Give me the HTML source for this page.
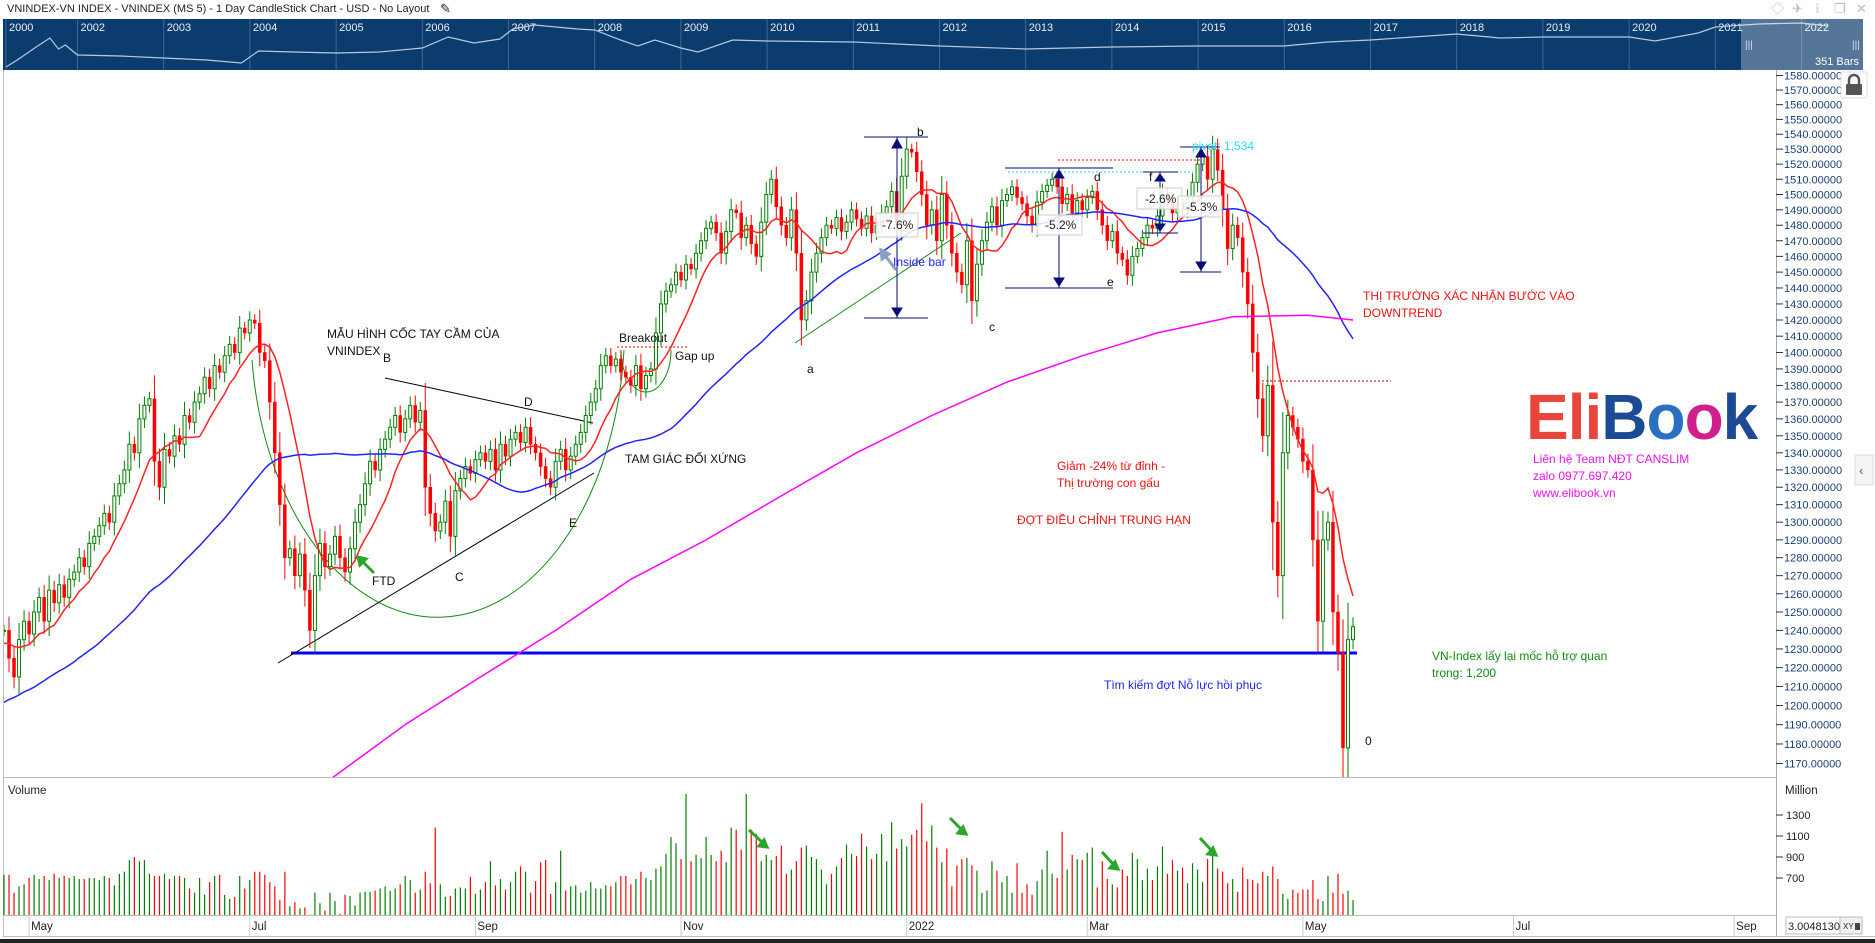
<!DOCTYPE html>
<html><head><meta charset="utf-8"><title>VNINDEX chart</title>
<style>
html,body{margin:0;padding:0;background:#fff;width:1875px;height:943px;overflow:hidden}
svg{display:block;font-family:"Liberation Sans","Noto Sans CJK SC",sans-serif}
</style></head><body>
<svg id="chart" width="1875" height="943" viewBox="0 0 1875 943" xmlns="http://www.w3.org/2000/svg">
<defs><clipPath id="pclip"><rect x="4" y="70" width="1772" height="707"/></clipPath></defs>
<rect x="0" y="0" width="1875" height="943" fill="#fff"/>
<text x="7" y="12" font-size="11" fill="#222">VNINDEX-VN INDEX - VNINDEX (MS 5) - 1 Day CandleStick Chart - USD - No Layout</text>
<text x="440" y="13" font-size="13" fill="#222">✎</text>
<g fill="#bbb" font-size="13">
<text x="1771" y="13">◇</text>
<text x="1792" y="13">✈</text>
<text x="1815" y="13" fill="#ddd">ℹ</text>
<text x="1834" y="13">❐</text>
<text x="1856" y="13">✕</text>
</g>
<g id="nav">
<rect x="3" y="19" width="1860" height="51" fill="#0c3c6e"/>
</g>
<line x1="3.5" y1="70" x2="3.5" y2="937" stroke="#bbb"/>
<line x1="1776.5" y1="70" x2="1776.5" y2="937" stroke="#aaa"/>
<line x1="3" y1="777.5" x2="1776" y2="777.5" stroke="#bbb"/>
<line x1="3" y1="915.5" x2="1776" y2="915.5" stroke="#bbb"/>
<line x1="3" y1="936.5" x2="1875" y2="936.5" stroke="#bbb"/>
<rect x="0" y="939" width="1875" height="4" fill="#222"/>
<g id="priceAxis"></g>
<g id="pricePane" clip-path="url(#pclip)">
<line x1="291" y1="653" x2="1357" y2="653" stroke="#0000ff" stroke-width="3"/>
<path d="M252 360 A187 292 0 0 0 624 350" fill="none" stroke="#138a13" stroke-width="1"/>
<path d="M621 350 A25 42 0 0 0 671 350" fill="none" stroke="#138a13" stroke-width="1"/>
<line x1="385" y1="378" x2="593" y2="423" stroke="#000" stroke-width="1"/>
<line x1="278" y1="663" x2="594" y2="473" stroke="#000" stroke-width="1"/>
<line x1="617" y1="347" x2="687" y2="347" stroke="#e00" stroke-dasharray="2,2"/>
<line x1="795" y1="343" x2="961" y2="233" stroke="#138a13"/>
<line x1="1058" y1="160" x2="1200" y2="160" stroke="#e00" stroke-dasharray="2,2"/>
<line x1="1008" y1="172" x2="1193" y2="172" stroke="#00d8e8" stroke-dasharray="2,2"/>
<line x1="1262" y1="381" x2="1391" y2="381" stroke="#c00" stroke-dasharray="2,2"/>
</g>
<g stroke="#0a0a7a" fill="#0a0a7a">
<line x1="864" y1="137" x2="928" y2="137"/><line x1="864" y1="318" x2="928" y2="318"/>
<line x1="897" y1="137" x2="897" y2="318"/>
<path d="M892 148 L897 139 L902 148Z"/><path d="M892 308 L897 316 L902 308Z"/>
</g>
<g stroke="#0a0a7a" fill="#0a0a7a">
<line x1="1005" y1="168" x2="1113" y2="168"/><line x1="1005" y1="288" x2="1113" y2="288"/>
<line x1="1059" y1="168" x2="1059" y2="288"/>
<path d="M1054 178 L1059 170 L1064 178Z"/><path d="M1054 278 L1059 286 L1064 278Z"/>
</g>
<g stroke="#0a0a7a" fill="#0a0a7a">
<line x1="1143" y1="172" x2="1178" y2="172"/><line x1="1143" y1="233" x2="1178" y2="233"/>
<line x1="1160" y1="172" x2="1160" y2="233"/>
<path d="M1155 181 L1160 174 L1165 181Z"/><path d="M1155 224 L1160 231 L1165 224Z"/>
</g>
<g stroke="#0a0a7a" fill="#0a0a7a">
<line x1="1180" y1="147" x2="1220" y2="147"/><line x1="1180" y1="272" x2="1221" y2="272"/>
<line x1="1201" y1="147" x2="1201" y2="272"/>
<path d="M1196 157 L1201 149 L1206 157Z"/><path d="M1196 262 L1201 270 L1206 262Z"/>
</g>
<g font-size="12">
<rect x="876" y="213" width="42" height="24" fill="#fff" fill-opacity="0.85" stroke="#ccc"/>
<text x="882" y="229" fill="#222">-7.6%</text>
<rect x="1037" y="215" width="45" height="20" fill="#fff" fill-opacity="0.85" stroke="#ccc"/>
<text x="1045" y="229" fill="#222">-5.2%</text>
<rect x="1137" y="188" width="45" height="21" fill="#fff" fill-opacity="0.85" stroke="#ccc"/>
<text x="1145" y="203" fill="#222">-2.6%</text>
<rect x="1178" y="196" width="44" height="21" fill="#fff" fill-opacity="0.85" stroke="#ccc"/>
<text x="1186" y="211" fill="#222">-5.3%</text>
<text x="1192" y="150" fill="#22e0f0">pivot: 1,534</text>
<text x="327" y="338" fill="#111">MẪU HÌNH CỐC TAY CẦM CỦA</text>
<text x="327" y="355" fill="#111">VNINDEX</text>
<text x="383" y="362" fill="#111">B</text>
<text x="524" y="406" fill="#111">D</text>
<text x="455" y="581" fill="#111">C</text>
<text x="569" y="527" fill="#111">E</text>
<text x="372" y="585" fill="#111">FTD</text>
<text x="619" y="342" fill="#111">Breakout</text>
<text x="675" y="360" fill="#111">Gap up</text>
<text x="625" y="463" fill="#111">TAM GIÁC ĐỐI XỨNG</text>
<text x="807" y="373" fill="#111">a</text>
<text x="917" y="136" fill="#111">b</text>
<text x="989" y="331" fill="#111">c</text>
<text x="1094" y="181" fill="#111">d</text>
<text x="1107" y="286" fill="#111">e</text>
<text x="1149" y="181" fill="#111">f</text>
<text x="893" y="266" fill="#2222ee">Inside bar</text>
<text x="1363" y="300" fill="#ee1111">THỊ TRƯỜNG XÁC NHẬN BƯỚC VÀO</text>
<text x="1363" y="317" fill="#ee1111">DOWNTREND</text>
<text x="1057" y="470" fill="#ee1111">Giảm -24% từ đỉnh -</text>
<text x="1057" y="487" fill="#ee1111">Thị trường con gấu</text>
<text x="1017" y="524" fill="#ee1111">ĐỢT ĐIỀU CHỈNH TRUNG HẠN</text>
<text x="1104" y="689" fill="#2222ee">Tìm kiếm đợt Nỗ lực hồi phục</text>
<text x="1432" y="660" fill="#138a13">VN-Index lấy lại mốc hỗ trợ quan</text>
<text x="1432" y="677" fill="#138a13">trọng: 1,200</text>
<text x="1365" y="745" fill="#111">0</text>
<text x="1533" y="463" fill="#ee11ee">Liên hệ Team NĐT CANSLIM</text>
<text x="1533" y="480" fill="#ee11ee">zalo 0977.697.420</text>
<text x="1533" y="497" fill="#ee11ee">www.elibook.vn</text>
</g>
<text x="1526" y="439" font-size="64" font-weight="bold" letter-spacing="-1"><tspan fill="#e8453c">Eli</tspan><tspan fill="#1c4a94">B</tspan><tspan fill="#2a6fc0">o</tspan><tspan fill="#d0208a">o</tspan><tspan fill="#1c4a94">k</tspan></text>
<path d="M374 573 L361 560 M358 557 l2 8 l6 -6z" stroke="#2aa52a" stroke-width="3" fill="#2aa52a"/>
<path d="M896 270 L884 254 M881 250 l1 9 l7 -5z" stroke="#8aa0c0" stroke-width="3" fill="#8aa0c0"/>
<g id="volPane"></g>
<g stroke="#2aa52a" stroke-width="3" fill="#2aa52a">
<path d="M749 830 L763 843 M767 847 l-8 -1 l5 -6z"/>
<path d="M950 818 L962 830 M966 834 l-8 -1 l5 -6z"/>
<path d="M1102 852 L1114 865 M1118 869 l-8 -1 l5 -6z"/>
<path d="M1200 838 L1212 851 M1216 855 l-8 -1 l5 -6z"/>
</g>
<text x="8" y="794" font-size="11.5" fill="#222">Volume</text>
<text x="1785" y="794" font-size="11.5" fill="#222">Million</text>
<g id="timeAxis"></g>
<g>
<rect x="1841" y="72" width="26" height="26" rx="2" fill="#fff" stroke="#ddd"/>
<rect x="1846" y="84" width="16" height="11" rx="1" fill="#555"/>
<path d="M1849 84 v-4 a5 5 0 0 1 10 0 v4" fill="none" stroke="#555" stroke-width="2.5"/>
</g>
<g>
<rect x="1855" y="455" width="18" height="30" fill="#f4f4f4" stroke="#ddd"/>
<text x="1859" y="475" font-size="13" fill="#666">‹</text>
</g>
<g>
<rect x="1786" y="917" width="54" height="17" fill="#fff" stroke="#bbb"/>
<text x="1788" y="930" font-size="11" fill="#222">3.0048130</text>
<rect x="1840" y="917" width="22" height="17" fill="#f0f0f0" stroke="#bbb"/>
<text x="1843" y="929" font-size="8" fill="#222">XY</text>
<rect x="1855" y="923" width="5" height="7" fill="#444"/>
</g>
</svg>
<script>
// ---- data ----
var priorCloses = [1150,1162,1170,1165,1178,1185,1172,1160,1168,1175,1180,1190,1185,1178,1170,1182,1190,1195,1188,1175,1180,1192,1198,1205,1210,1200,1195,1205,1215,1222,1230,1225,1218,1210,1205,1212,1220,1228,1235,1230,1225,1232,1240,1238,1230,1222,1228,1235,1240];
var closes = [1240,1225,1215,1235,1245,1238,1250,
1258,1245,1262,1255,1265,1258,1268,
1272,1280,1275,1288,1292,
1298,1305,1300,1315,1322,
1330,1345,1340,1360,1368,1372,
1335,1320,1342,
1338,1350,1345,1362,1358,1370,
1375,1385,1378,1392,1388,1398,1405,1400,1415,
1412,1420,1418,
1400,1395,1370,1340,1310,1280,
1285,1270,1282,1262,1240,
1270,1288,1275,1282,1292,1280,1272,
1285,1300,1310,
1322,1335,1330,1342,1348,
1355,1362,1352,1360,1368,1358,1365,
1320,1305,
1295,1300,1312,1292,1318,
1325,1332,1328,1336,1340,
1335,1342,1330,1345,1338,1348,1352,1346,1355,
1345,1340,1332,1325,1320,
1335,1342,1330,1338,1345,1352,
1362,1370,1378,1392,
1398,1392,1396,1388,
1385,1380,1392,1378,1386,1390,
1412,1430,1438,1442,
1450,1445,1455,1452,1462,
1470,1478,1482,1475,1462,1476,1490,1488,1472,1480,1468,1460,
1482,1500,1510,1492,
1480,1472,1490,1462,1420,
1432,1450,1462,1472,1480,
1478,1485,1476,1482,1490,1484,1478,1486,1475,1480,1488,1492,
1502,1482,1512,1530,1528,
1515,1500,1480,
1490,1470,1500,1480,
1462,1450,1442,1470,1432,1455,1470,
1482,1492,1480,1496,1500,1505,
1498,1494,1486,1480,1495,1502,1506,1510,
1505,1494,1500,1488,1496,1490,1498,1502,1490,
1480,1470,1476,1462,1458,1448,1460,
1465,1472,1480,1478,1486,1500,
1496,1488,1494,1490,1498,1508,1520,
1525,1510,1530,1516,
1490,1465,1480,1472,1450,1430,
1400,1372,1350,1380,1300,
1270,1340,1362,1355,1348,1335,1330,
1290,1245,
1290,1300,1250,1228,1178,
1235,1242];
var volumes = [730,730,560,620,640,700,730,690,720,680,
740,700,720,700,720,690,690,700,700,680,
720,700,630,740,760,870,900,860,870,740,
720,720,740,690,720,720,700,600,560,700,
540,660,720,730,540,500,520,720,600,680,
760,760,730,660,620,490,760,430,470,410,
420,350,560,460,390,560,480,360,540,530,
440,560,570,570,580,600,620,580,600,640,
720,680,560,590,760,650,1180,640,520,530,
600,610,600,710,550,590,660,860,630,690,
590,660,760,810,760,560,670,850,870,550,
660,960,580,620,630,560,580,660,600,600,
630,620,660,720,720,640,690,760,700,680,
790,810,930,1090,1030,880,1500,860,920,890,
1090,920,860,960,850,1180,1160,970,1500,1160,
1120,860,920,870,910,1010,740,780,860,990,
1010,900,880,780,640,740,810,890,1020,930,
910,1120,1000,880,930,1120,860,1230,980,1070,
1000,1110,1160,1410,1050,1200,990,850,980,620,
820,880,890,820,770,560,580,860,770,660,
720,560,840,560,640,540,670,780,960,740,
700,1140,780,920,880,870,940,990,610,860,
690,640,610,780,720,940,880,680,790,680,
810,1000,740,870,770,800,650,840,780,660,
880,920,790,760,650,690,570,800,690,680,
650,760,720,810,690,550,500,590,560,590,
590,680,500,480,720,560,740,550,580,490];
var ma200Bars = [64,80,95,110,125,140,155,170,185,200,215,230,245,260,269];
var ma200Vals = [1160,1190,1215,1240,1268,1290,1315,1340,1362,1382,1398,1412,1422,1423,1420];
var monthLabels = ["May","Jul","Sep","Nov","2022","Mar","May","Jul","Sep"];
var monthBars = [5,49,94,135,180,216,259,301,345];
var volTicks = [1300,1100,900,700];
var navYearLabels = ["2000","2002","2003","2004","2005","2006","2007","2008","2009","2010","2011","2012","2013","2014","2015","2016","2017","2018","2019","2020","2021","2022"];
var navYearPos = [2001.17,2002,2003,2004,2005,2006,2007,2008,2009,2010,2011,2012,2013,2014,2015,2016,2017,2018,2019,2020,2021,2022];
var navT = [2001.17,2001.3,2001.42,2001.52,2001.68,2001.78,2001.86,2002,2002.5,2003,2003.5,2003.9,2004.1,2004.5,2005,2005.5,2006,2006.3,2006.6,2006.9,2007.05,2007.3,2007.8,2008,2008.3,2008.5,2008.7,2009,2009.2,2009.6,2010,2011,2012,2013,2014,2015,2016,2016.5,2017,2018,2018.5,2019,2020,2020.3,2020.8,2021,2021.5,2022,2022.3];
var navV = [60,200,340,460,640,420,500,300,280,240,200,140,380,360,340,360,440,660,540,620,820,900,820,800,600,480,600,440,360,600,580,560,480,420,460,480,480,560,600,720,640,660,660,580,740,860,920,940,880];

// ---- scales ----
function xB(i){ return 4 + i*5.015; }
function yP(v){ return 75.5 + 2290*Math.log(1580/v); }
function yV(v){ return 878 - (v-700)*0.105; }
function xNav(t){ return 77.5 + (t-2002)*86.2; }
function yNav(v){ return 70 - v*0.05; }
var NS = "http://www.w3.org/2000/svg";
function mk(tag, attrs, parent){ var e=document.createElementNS(NS,tag); for(var k in attrs){ e.setAttribute(k, attrs[k]); } parent.appendChild(e); return e; }

// navigator
var nav = document.getElementById('nav');
for (var n=0;n<navYearLabels.length;n++){
  var nx = xNav(navYearPos[n]);
  var gl = mk('line',{x1:nx,y1:19,x2:nx,y2:70,stroke:'#4d6f96','stroke-width':0.8},nav);
  
  
  var yl = mk('text',{x:nx+3,y:31,'font-size':11,fill:'#e6eef7'},nav);
  yl.textContent = navYearLabels[n];
  
  
}
var np = '';
for (var n=0;n<navT.length;n++){ np += (n?'L':'M') + xNav(navT[n]).toFixed(1)+' '+yNav(navV[n]).toFixed(1)+' '; }
var navLine = mk('path',{d:np,fill:'none',stroke:'#b8c8dc','stroke-width':1.2},nav);


var sel = mk('rect',{x:1741,y:19,width:122,height:51,fill:'#ffffff','fill-opacity':0.3},nav);


var hl = mk('text',{x:1745,y:48,'font-size':10,fill:'#dde'},nav); hl.textContent='|||';


var hr = mk('text',{x:1852,y:48,'font-size':10,fill:'#dde'},nav); hr.textContent='|||';


var bars = mk('text',{x:1815,y:65,'font-size':11,fill:'#fff'},nav); bars.textContent='351 Bars';



// price axis
var pa = document.getElementById('priceAxis');
for (var v=1170; v<=1580; v+=10){
  var ty = yP(v);
  var tk = mk('line',{x1:1776,y1:ty,x2:1783,y2:ty,stroke:'#333'},pa);
  
  
  var tl = mk('text',{x:1784,y:ty+4,'font-size':11,fill:'#1b3f73'},pa);
  tl.textContent = v.toFixed(5);
  
  
}

// candles
var pp = document.getElementById('pricePane');
var all = priorCloses.concat(closes);
var P = priorCloses.length;
for (var i=0;i<closes.length;i++){
  var o = i===0 ? priorCloses[P-1] : closes[i-1];
  var c = closes[i];
  var w = 3 + Math.abs(c-o)*0.3;
  var hi = Math.max(o,c)+w, lo = Math.min(o,c)-w;
  var x = xB(i);
  var up = c>=o;
  var col = up ? '#008000' : '#ff0000';
  var wk = mk('line',{x1:x,y1:yP(hi),x2:x,y2:yP(lo),stroke:col,'stroke-width':1},pp);
  
  
  var yt = yP(Math.max(o,c)), yb = yP(Math.min(o,c));
  var bd = mk('rect',{x:x-1.5,y:yt,width:3,height:Math.max(1,yb-yt),fill:up?'#fff':'#ff0000',stroke:col,'stroke-width':up?1:0.5},pp);
  
  
}
// moving averages
function sma(n){ var pts=''; for (var i=0;i<closes.length;i++){ var s=0; for (var k=0;k<n;k++){ s+=all[P+i-k]; } pts += (i?'L':'M')+xB(i).toFixed(1)+' '+yP(s/n).toFixed(1)+' '; } return pts; }
var ma10 = mk('path',{d:sma(10),fill:'none',stroke:'#ff2222','stroke-width':1.5},pp);


var ma50 = mk('path',{d:sma(50),fill:'none',stroke:'#2222ff','stroke-width':1.5},pp);


var mp='';
for (var m=0;m<ma200Bars.length;m++){ mp += (m?'L':'M')+xB(ma200Bars[m]).toFixed(1)+' '+yP(ma200Vals[m]).toFixed(1)+' '; }
var ma200 = mk('path',{d:mp,fill:'none',stroke:'#ff00ff','stroke-width':1.5},pp);



// volume
var vp = document.getElementById('volPane');
for (var t=0;t<volTicks.length;t++){
  var vy = yV(volTicks[t]);
  var vt = mk('line',{x1:1776,y1:vy,x2:1783,y2:vy,stroke:'#333'},vp);
  
  
  var vl = mk('text',{x:1786,y:vy+4,'font-size':11,fill:'#222'},vp);
  vl.textContent = volTicks[t];
  
  
}
for (var i=0;i<volumes.length;i++){
  var o2 = i===0 ? priorCloses[P-1] : closes[i-1];
  var vb = mk('line',{x1:xB(i),y1:915,x2:xB(i),y2:yV(volumes[i]),stroke:closes[i]>=o2?'#008000':'#ff0000','stroke-width':1.2},vp);
  
  
}

// time axis
var ta = document.getElementById('timeAxis');
for (var m=0;m<monthLabels.length;m++){
  var mx = xB(monthBars[m]);
  var ml = mk('line',{x1:mx,y1:915,x2:mx,y2:936,stroke:'#ccc'},ta);
  
  
  var mt = mk('text',{x:mx+2,y:930,'font-size':11.5,fill:'#222'},ta);
  mt.textContent = monthLabels[m];
  
  
}
</script>
</body></html>
